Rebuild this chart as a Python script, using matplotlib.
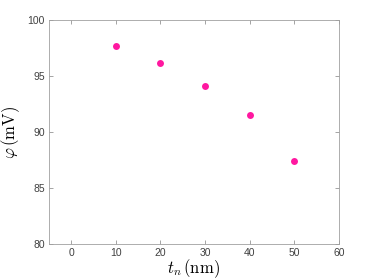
import matplotlib
matplotlib.use('Agg')
import matplotlib.pyplot as plt

# thickness t_n (nm) and potential phi (mV)
t_n = [10, 20, 30, 40, 50]
phi = [97.7, 96.15, 94.1, 91.5, 87.4]

xticks = [0, 10, 20, 30, 40, 50, 60]
yticks = [80, 85, 90, 95, 100]

plt.rcParams['mathtext.fontset'] = 'cm'
plt.rcParams['font.family'] = ['Liberation Sans', 'DejaVu Sans']

fig = plt.figure(figsize=(3.74, 2.8), dpi=100)
ax = fig.add_axes([0.131, 0.13, 0.775, 0.797])

ax.plot(t_n, phi, 'o', color='#ff18a0', markersize=5.0, markeredgewidth=0)

ax.set_xlim(-5, 60)
ax.set_ylim(80, 100)
ax.set_xticks(xticks)
ax.set_yticks(yticks)

grey = '#404040'
for s in ax.spines.values():
    s.set_color('#a0a0a0')
    s.set_linewidth(0.6)
ax.tick_params(direction='in', top=True, right=True, length=3, width=0.5,
               color='#808080', labelsize=7.5, labelcolor=grey, pad=3)

ax.set_xlabel(r'$t_n\,(\mathrm{nm})$', fontsize=12, labelpad=0)
ax.set_ylabel(r'$\varphi\,(\mathrm{mV})$', fontsize=12, labelpad=4)

fig.savefig('out.png', dpi=100)
